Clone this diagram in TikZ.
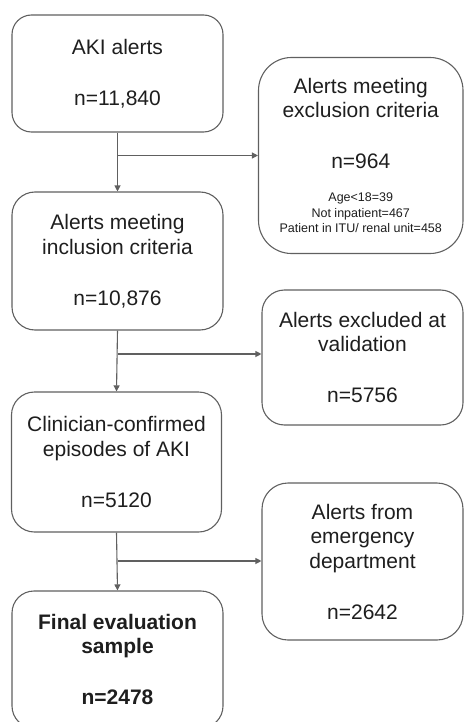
\documentclass[tikz,border=0pt]{standalone}
\usepackage{fontspec}
\setmainfont{Liberation Sans}
\usetikzlibrary{arrows.meta}
\definecolor{lncol}{HTML}{606060}
\definecolor{txcol}{HTML}{1E1E1E}
\newcommand{\smalltxt}{\fontsize{12.5}{15.5}\selectfont}
\begin{document}
\begin{tikzpicture}[x=1pt,y=-1pt,
  box/.style={draw=lncol, line width=1.1pt, rectangle, align=center, text=txcol,
    font=\fontsize{21}{24.5}\selectfont, inner sep=0pt},
  arr/.style={draw=lncol, line width=1.1pt, -{Triangle[length=6pt,width=6pt]}}]
\useasboundingbox (0,0) rectangle (464,722);
\clip (0,0) rectangle (464,722);

\node[box, minimum width=211pt, minimum height=117pt, rounded corners=19.5pt] (b1) at (117.5,73.5)
  {AKI alerts\\[26.5pt]n=11,840};
\node[box, minimum width=211pt, minimum height=138pt, rounded corners=23pt] (b2) at (117.5,261)
  {Alerts meeting\\inclusion criteria\\[26.5pt]n=10,876};
\node[box, minimum width=210pt, minimum height=140pt, rounded corners=23pt] (b3) at (116.5,462)
  {Clinician-confirmed\\episodes of AKI\\[26.5pt]n=5120};
\node[box, minimum width=211pt, minimum height=137pt, rounded corners=22pt, font=\fontsize{21}{24.5}\selectfont\bfseries] (b4) at (117.5,659.5)
  {Final evaluation\\sample\\[26.5pt]n=2478};

\node[box, minimum width=204.5pt, minimum height=196pt, rounded corners=33pt] (e1) at (360.75,155.5)
  {Alerts meeting\\exclusion criteria\\[26.5pt]n=964\\[8.5pt]{\smalltxt Age<18=39}\\[-9pt]{\smalltxt Not inpatient=467}\\[-9pt]{\smalltxt Patient in ITU/ renal unit=458}};
\node[box, minimum width=201pt, minimum height=135pt, rounded corners=22.5pt] (e2) at (362.5,357.5)
  {Alerts excluded at\\validation\\[26.5pt]n=5756};
\node[box, minimum width=201pt, minimum height=157pt, rounded corners=26pt] (e3) at (362.5,561.5)
  {Alerts from\\emergency\\department\\[26.5pt]n=2642};

\coordinate (j1) at (117.5,155.5);
\coordinate (j2) at (117.5,354);
\coordinate (j3) at (117.5,561);

\draw[arr] (b1.south) -- (b2.north);
\draw[arr] (j1) -- (j1 -| e1.west);
\draw[arr] (b2.south) -- (b3.north);
\draw[arr] (j2) -- (j2 -| e2.west);
\draw[arr] (b3.south) -- (b4.north);
\draw[arr] (j3) -- (j3 -| e3.west);
\end{tikzpicture}
\end{document}
